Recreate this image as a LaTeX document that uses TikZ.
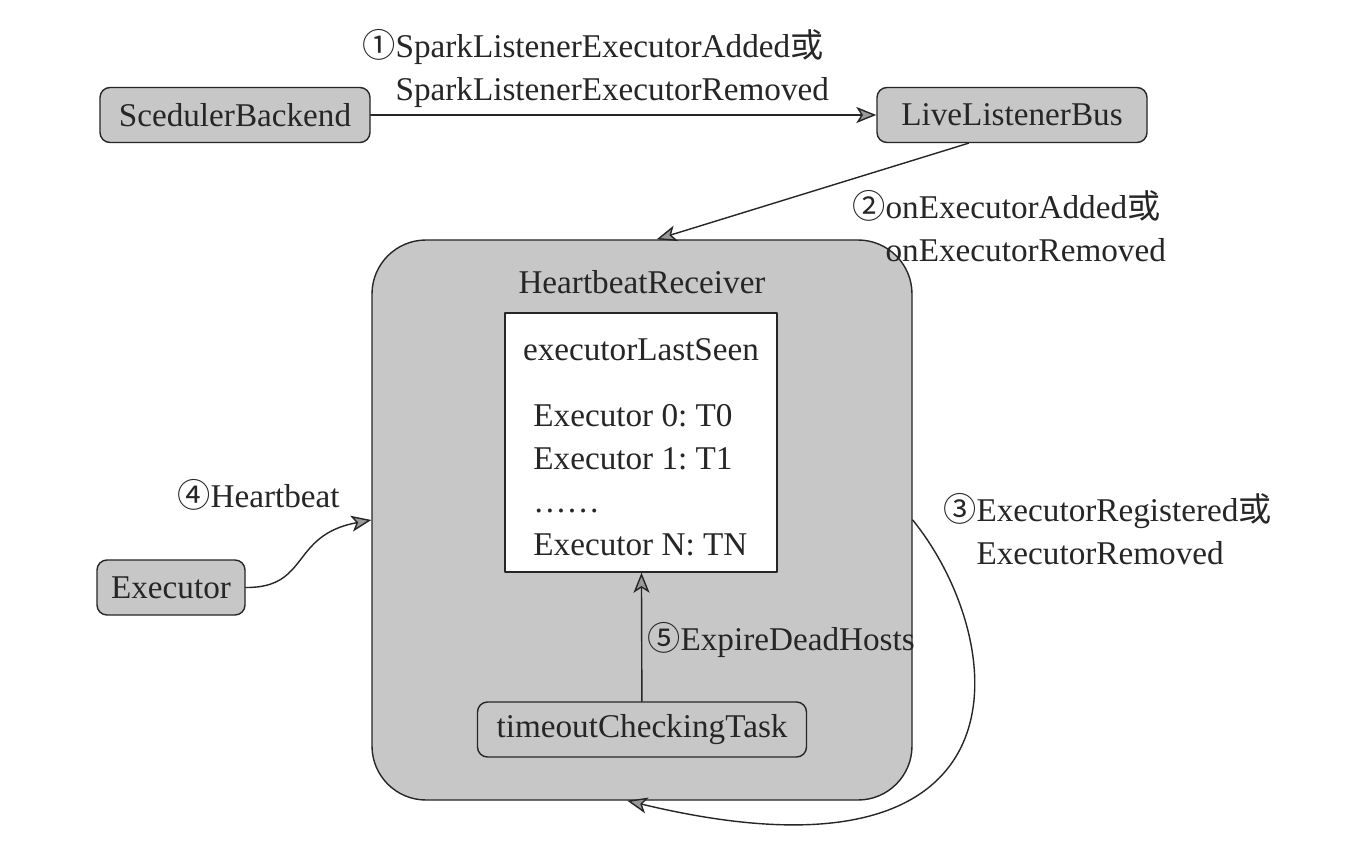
\documentclass[tikz,border=0pt]{standalone}
\usepackage{fontspec}
\setmainfont{Liberation Serif}
\newfontfamily\cjk{Noto Sans CJK SC}
\usetikzlibrary{arrows.meta}
\frenchspacing

\begin{document}
\begin{tikzpicture}[x=0.5pt, y=-0.5pt, font=\fontsize{16.6}{21.5}\selectfont, line join=round, line cap=round,
	>={Stealth[length=10pt, width=8pt, inset=2.5pt, fill=black!40]},
	box/.style={draw=black!85, fill=black!22, rounded corners=5pt, line width=0.7pt, inner sep=0pt, minimum height=27.5pt, text=black!85},
	lab/.style={anchor=west, inner sep=0pt, align=left, text=black!85}]
	% Khung hình
	\fill[white] (0,0) rectangle (1354,850);
	\useasboundingbox (0,0) rectangle (1354,850);
	
	% Các khối phía trên
	\node[box, minimum width=135pt] (SB) at (235,115) {ScedulerBackend};
	\node[box, minimum width=135pt] (LLB) at (1012,115) {LiveListenerBus};
	
	% Khối HeartbeatReceiver lớn
	\node[box, minimum width=270pt, minimum height=280pt, rounded corners=27pt] (HR) at (642,520) {};
	\node[text=black!85] (HRt) at (642,282) {HeartbeatReceiver};
	
	% Bảng executorLastSeen
	\node[draw=black!85, fill=white, line width=0.7pt, minimum width=136pt, minimum height=129.5pt, inner sep=0pt] (ELS) at (641,442.5) {};
	\node[text=black!85] (ELSt) at (641,350) {executorLastSeen};
	\node[lab] (ELSl) at (533,480) {Executor 0: T0\\Executor 1: T1\\……\\Executor N: TN};
	
	% Các khối còn lại
	\node[box, minimum width=164.5pt] (TCT) at (642,729.5) {timeoutCheckingTask};
	\node[box, minimum width=74pt] (EX) at (171,587.5) {Executor};
	
	% Các mũi tên
	\draw[->, draw=black!85, line width=0.7pt] (SB) -- (LLB);
	\draw[->, draw=black!85, line width=0.7pt] (LLB.213) -- (HR.87);
	\draw[->, draw=black!85, line width=0.7pt] (HR.east) .. controls (1010,640) and (1040,900) .. (HR.267.5);
	\draw[->, draw=black!85, line width=0.7pt] (EX.east) .. controls (310,588) and (290,535) .. (HR.west);
	\draw[->, draw=black!85, line width=0.7pt] (TCT) -- (ELS);
	
	% Nhãn các mũi tên
	\node[lab] (L1) at (362,68) {{\cjk ①}SparkListenerExecutorAdded{\cjk 或}\\\phantom{\cjk ①}SparkListenerExecutorRemoved};
	\node[lab] (L2) at (852,227) {{\cjk ②}onExecutorAdded{\cjk 或}\\\phantom{\cjk ②}onExecutorRemoved};
	\node[lab] (L3) at (943,530) {{\cjk ③}ExecutorRegistered{\cjk 或}\\\phantom{\cjk ③}ExecutorRemoved};
	\node[lab] (L4) at (177,495) {{\cjk ④}Heartbeat};
	\node[lab] (L5) at (647,640) {{\cjk ⑤}ExpireDeadHosts};
\end{tikzpicture}
\end{document}
